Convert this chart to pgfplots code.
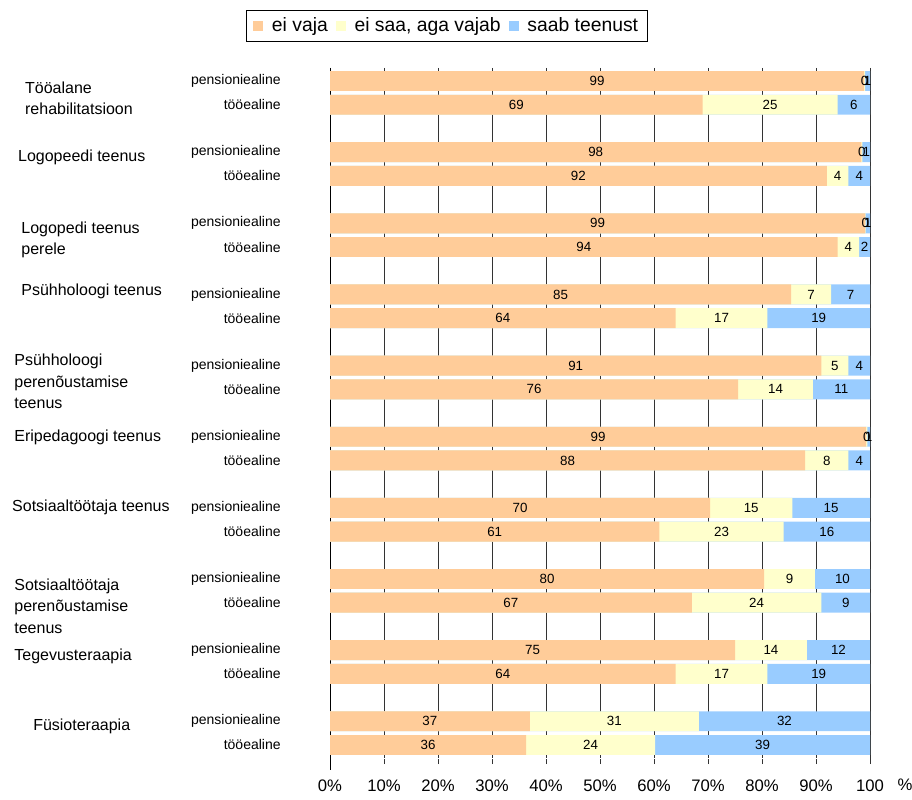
\documentclass[border=0pt]{standalone}
\usepackage{pgfplots}
\usepackage{pgfplotstable}
\pgfplotsset{compat=1.18}
\usepackage{fontspec}
\setmainfont{Liberation Sans}
\definecolor{cOr}{HTML}{FFCC99}
\definecolor{cYe}{HTML}{FFFFCC}
\definecolor{cBl}{HTML}{99CCFF}
\definecolor{cGr}{HTML}{333333}
\pgfplotstableread{
y a b c la lb lc
0 98.9 0.2 0.9 99 0 1
1 69 25 6 69 25 6
3 98.4 0.2 1.4 98 0 1
4 92 4 4 92 4 4
6 99.1 0.1 0.8 99 0 1
7 94 4 2 94 4 2
9 85.4 7.4 7.2 85 7 7
10 64 17 19 64 17 19
12 91 5 4 91 5 4
13 75.6 13.8 10.6 76 14 11
15 99.3 0.2 0.5 99 0 1
16 88 8 4 88 8 4
18 70.4 15.2 14.4 70 15 15
19 61 23 16 61 23 16
21 80.4 9.4 10.2 80 9 10
22 67 24 9 67 24 9
24 75 13.3 11.7 75 14 12
25 64 17 19 64 17 19
27 37 31.3 31.7 37 31 32
28 36.3 23.9 39.8 36 24 39
}\data
\begin{document}
\begin{tikzpicture}
\useasboundingbox (0,0) rectangle (684pt,599.25pt);
\begin{axis}[
  at={(247.5pt,30.75pt)}, anchor=south west,
  width=405pt, height=517.5pt, scale only axis,
  xmin=0, xmax=100, ymin=-0.55, ymax=28.55, y dir=reverse,
  clip=false,
  axis x line*=bottom, axis y line*=left,
  every outer x axis line/.append style={white},
  y axis line style={draw=black, line width=0.75pt, shorten >=-9pt},
  xtick={0,10,...,100},
  xticklabels={0\%,10\%,20\%,30\%,40\%,50\%,60\%,70\%,80\%,90\%,100},
  xticklabel style={font=\fontsize{12.5}{14}\selectfont, yshift=-8.5pt},
  tick align=outside, major tick length=4.5pt,
  xtick style={draw=cGr, line width=0.75pt},
  xmajorgrids, grid style={draw=cGr, line width=0.75pt},
  ytick={0,1,3,4,6,7,9,10,12,13,15,16,18,19,21,22,24,25,27,28},
  yticklabels={pensioniealine,tööealine,pensioniealine,tööealine,pensioniealine,tööealine,pensioniealine,tööealine,pensioniealine,tööealine,pensioniealine,tööealine,pensioniealine,tööealine,pensioniealine,tööealine,pensioniealine,tööealine,pensioniealine,tööealine},
  ytick style={draw=none},
  yticklabel style={font=\fontsize{10.5}{12}\selectfont, xshift=-29pt},
  legend columns=3,
  legend style={at={(0.2167,1.061)}, anchor=center, draw=black, line width=0.75pt,
    inner xsep=5pt, inner ysep=3.5pt,
    font=\fontsize{14.5}{17}\selectfont, /tikz/every even column/.append style={column sep=4pt}},
  legend image code/.code={\fill[#1, draw=none] (0pt,-3.5pt) rectangle (7.5pt,4pt); \path (12pt,0pt);},
  nodes near coords style={font=\fontsize{10}{12}\selectfont, anchor=center},
]
\addlegendimage{fill=cOr, draw=none}\addlegendentry{ei vaja}
\addlegendimage{fill=cYe, draw=none}\addlegendentry{ei saa, aga vajab}
\addlegendimage{fill=cBl, draw=none}\addlegendentry{saab teenust}
\addplot[xbar, bar width=0.84, bar shift=0pt, fill=cBl, draw=none, forget plot]
  table[x expr=\thisrow{a}+\thisrow{b}+\thisrow{c}, y=y] {\data};
\addplot[xbar, bar width=0.84, bar shift=0pt, fill=cYe, draw=none, forget plot]
  table[x expr=\thisrow{a}+\thisrow{b}, y=y] {\data};
\addplot[xbar, bar width=0.84, bar shift=0pt, fill=cOr, draw=none, forget plot]
  table[x=a, y=y] {\data};
\addplot[draw=none, mark=none, forget plot, nodes near coords, point meta=explicit symbolic]
  table[x expr=\thisrow{a}/2, y=y, meta=la] {\data};
\addplot[draw=none, mark=none, forget plot, nodes near coords, point meta=explicit symbolic]
  table[x expr=\thisrow{a}+\thisrow{b}/2, y=y, meta=lb] {\data};
\addplot[draw=none, mark=none, forget plot, nodes near coords, point meta=explicit symbolic]
  table[x expr=\thisrow{a}+\thisrow{b}+\thisrow{c}/2, y=y, meta=lc] {\data};
\begin{scope}[every node/.style={anchor=west, align=left, font=\fontsize{12}{16}\selectfont, inner sep=0pt}]
\node at (axis cs:-56.5,0.72) {Tööalane\\rehabilitatsioon};
\node at (axis cs:-57.8,3.2) {Logopeedi teenus};
\node at (axis cs:-57.2,6.71) {Logopedi teenus\\perele};
\node at (axis cs:-57.2,8.86) {Psühholoogi teenus};
\node at (axis cs:-58.5,12.67) {Psühholoogi\\perenõustamise\\teenus};
\node at (axis cs:-58.5,15.01) {Eripedagoogi teenus};
\node at (axis cs:-58.9,17.97) {Sotsiaaltöötaja teenus};
\node at (axis cs:-58.5,22.14) {Sotsiaaltöötaja\\perenõustamise\\teenus};
\node at (axis cs:-58.5,24.25) {Tegevusteraapia};
\node at (axis cs:-55,27.2) {Füsioteraapia};
\end{scope}
\node[font=\fontsize{12.5}{14}\selectfont] at (axis cs:106.5,29.69) {\%};
\end{axis}
\end{tikzpicture}
\end{document}
